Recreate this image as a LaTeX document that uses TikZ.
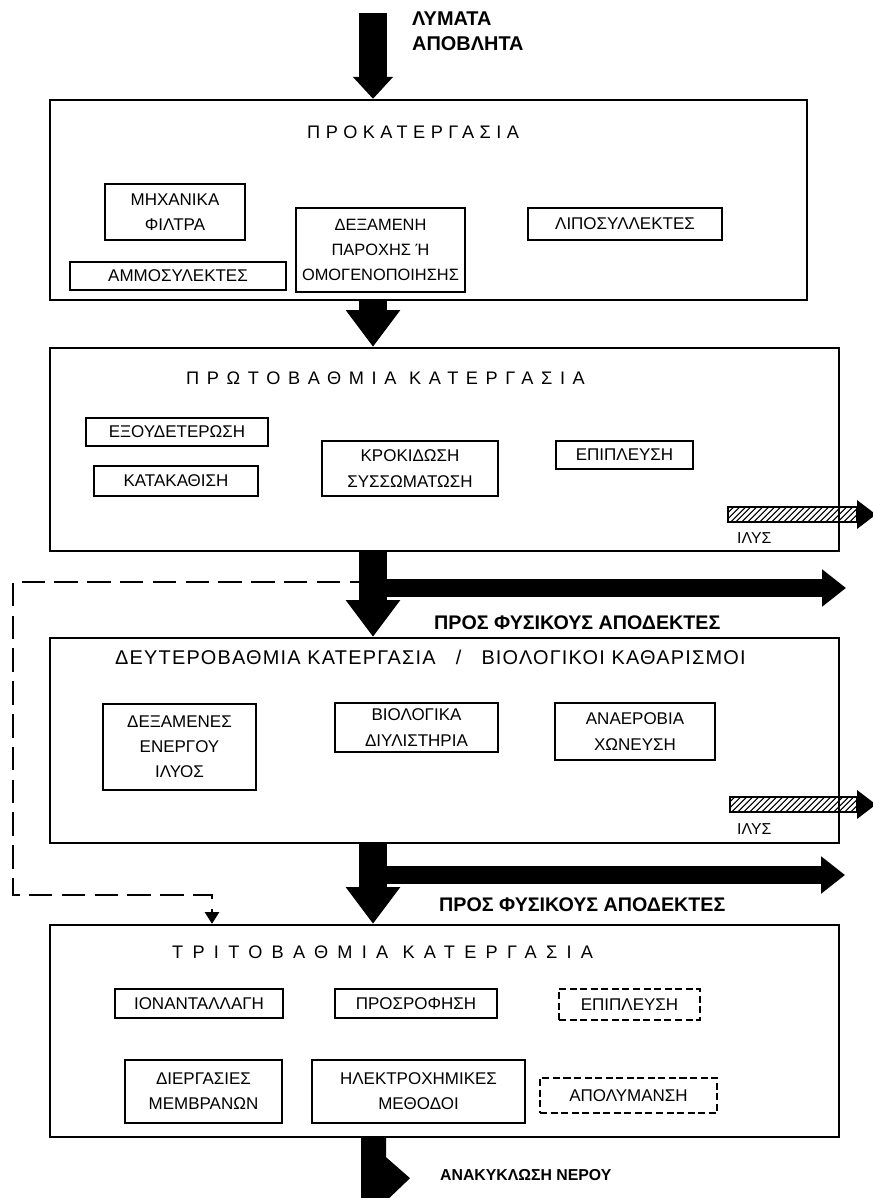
\documentclass[tikz,border=0pt]{standalone}
\usepackage{fontspec}
\setmainfont{Liberation Sans}
\usetikzlibrary{arrows.meta, patterns.meta}

\newcommand{\spaced}[2]{{\addfontfeatures{LetterSpace=#1}#2}}

\begin{document}
\begin{tikzpicture}[x=0.03cm, y=-0.03cm,
    stage/.style = {draw, line width=2pt, inner sep=0pt},
    unit/.style = {draw, line width=1.5pt, align=center, inner sep=0pt, font=\fontsize{14.5}{21.5}\selectfont},
    optional/.style = {unit, dash pattern=on 6pt off 3pt},
    heading/.style = {anchor=west, inner sep=0pt, font=\fontsize{15.5}{18}\selectfont},
    note/.style = {anchor=west, inner sep=0pt, font=\bfseries\fontsize{16.8}{18}\selectfont},
    small/.style = {anchor=west, inner sep=0pt, font=\fontsize{13.5}{15}\selectfont},
    flow/.style = {line width=0.84cm, -{Triangle[width=1.56cm, length=1.1cm]}},
    outflow/.style = {line width=0.54cm, -{Triangle[width=1.08cm, length=0.72cm]}},
    sludge/.style = {draw, line width=1.2pt, pattern={Lines[angle=45, distance=4pt, line width=1.2pt]}},
    recycle/.style = {line width=2pt, dash pattern=on 20pt off 8pt, -{Triangle[width=12pt, length=10pt]}}]
    \useasboundingbox (0,0) rectangle (873,1198);

    % stages
    \node[stage, minimum width=22.71cm, minimum height=6cm] (pre) at (428.5,200) {};
    \node[stage, minimum width=23.67cm, minimum height=6.09cm] (prim) at (444.5,449.5) {};
    \node[stage, minimum width=23.67cm, minimum height=6.15cm] (sec) at (444.5,740.5) {};
    \node[stage, minimum width=23.67cm, minimum height=6.36cm] (tert) at (444.5,1031) {};

    \node[heading] (preT) at (307,132) {\spaced{30}{ΠΡΟΚΑΤΕΡΓΑΣΙΑ}};
    \node[heading] (primT) at (186,378) {\spaced{42}{ΠΡΩΤΟΒΑΘΜΙΑ ΚΑΤΕΡΓΑΣΙΑ}};
    \node[heading, font=\fontsize{17}{18}\selectfont] (secT) at (115,657) {\spaced{6}{ΔΕΥΤΕΡΟΒΑΘΜΙΑ ΚΑΤΕΡΓΑΣΙΑ \ \ / \ \ ΒΙΟΛΟΓΙΚΟΙ ΚΑΘΑΡΙΣΜΟΙ}};
    \node[heading] (tertT) at (172,952) {\spaced{51}{ΤΡΙΤΟΒΑΘΜΙΑ ΚΑΤΕΡΓΑΣΙΑ}};

    % pretreatment
    \node[unit, minimum width=4.2cm, minimum height=1.68cm] (filt) at (175,212) {ΜΗΧΑΝΙΚΑ\\ΦΙΛΤΡΑ};
    \node[unit, minimum width=6.48cm, minimum height=0.84cm] (sand) at (178,276) {ΑΜΜΟΣΥΛΕΚΤΕΣ};
    \node[unit, minimum width=5.07cm, minimum height=2.52cm, font=\fontsize{14}{21.5}\selectfont] (tank) at (380.5,250) {ΔΕΞΑΜΕΝΗ\\ΠΑΡΟΧΗΣ Ή\\ΟΜΟΓΕΝΟΠΟΙΗΣΗΣ};
    \node[unit, minimum width=5.82cm, minimum height=0.96cm] (grease) at (625,224) {ΛΙΠΟΣΥΛΛΕΚΤΕΣ};

    % primary
    \node[unit, minimum width=5.46cm, minimum height=0.84cm] (neut) at (177,432) {ΕΞΟΥΔΕΤΕΡΩΣΗ};
    \node[unit, minimum width=4.92cm, minimum height=0.9cm] (settle) at (176,481) {ΚΑΤΑΚΑΘΙΣΗ};
    \node[unit, minimum width=5.28cm, minimum height=1.65cm] (floc) at (410,468.5) {ΚΡΟΚΙΔΩΣΗ\\ΣΥΣΣΩΜΑΤΩΣΗ};
    \node[unit, minimum width=4.11cm, minimum height=0.84cm] (float) at (624.5,455) {ΕΠΙΠΛΕΥΣΗ};

    % secondary
    \node[unit, minimum width=4.59cm, minimum height=2.58cm] (act) at (179.5,747) {ΔΕΞΑΜΕΝΕΣ\\ΕΝΕΡΓΟΥ\\ΙΛΥΟΣ};
    \node[unit, minimum width=4.89cm, minimum height=1.47cm] (bio) at (416.5,727.5) {ΒΙΟΛΟΓΙΚΑ\\ΔΙΥΛΙΣΤΗΡΙΑ};
    \node[unit, minimum width=4.8cm, minimum height=1.71cm] (anae) at (635,731.5) {ΑΝΑΕΡΟΒΙΑ\\ΧΩΝΕΥΣΗ};

    % tertiary
    \node[unit, minimum width=5.04cm, minimum height=0.87cm] (ion) at (199,1003.5) {ΙΟΝΑΝΤΑΛΛΑΓΗ};
    \node[unit, minimum width=4.86cm, minimum height=0.87cm] (ads) at (416,1003.5) {ΠΡΟΣΡΟΦΗΣΗ};
    \node[optional, minimum width=4.23cm, minimum height=0.93cm] (float2) at (629.5,1004.5) {ΕΠΙΠΛΕΥΣΗ};
    \node[unit, minimum width=4.71cm, minimum height=1.89cm] (memb) at (203.5,1091.5) {ΔΙΕΡΓΑΣΙΕΣ\\ΜΕΜΒΡΑΝΩΝ};
    \node[unit, minimum width=6.39cm, minimum height=1.89cm] (elec) at (418.5,1091.5) {ΗΛΕΚΤΡΟΧΗΜΙΚΕΣ\\ΜΕΘΟΔΟΙ};
    \node[optional, minimum width=5.31cm, minimum height=1.05cm] (disinf) at (628.5,1095.5) {ΑΠΟΛΥΜΑΝΣΗ};

    % main flow
    \coordinate (in) at (373,13);
    \coordinate (back) at (13,582);
    \coordinate (turn) at (13,895);
    \coordinate (drop) at (212,0);
    \draw[recycle] (in |- back) -- (back) -- (turn) -| (drop |- tert.north);

    \node[note, anchor=north west, align=left, font=\bfseries\fontsize{17}{21}\selectfont] (waste) at (412,12) {ΛΥΜΑΤΑ\\ΑΠΟΒΛΗΤΑ};
    \draw[line width=0.84cm, -{Triangle[width=1.17cm, length=0.66cm]}] (in) -- (in |- pre.north);
    \draw[flow] (in |- pre.south) -- (in |- prim.north);
    \draw[flow] (in |- prim.south) -- (in |- sec.north);
    \draw[flow] (in |- sec.south) -- (in |- tert.north);

    % to receivers
    \coordinate (out1) at (846,588);
    \coordinate (out2) at (845,875);
    \draw[outflow] (in |- out1) -- (out1);
    \draw[outflow] (in |- out2) -- (out2);
    \node[note] (recv1) at (434,623) {ΠΡΟΣ ΦΥΣΙΚΟΥΣ ΑΠΟΔΕΚΤΕΣ};
    \node[note] (recv2) at (439,905) {ΠΡΟΣ ΦΥΣΙΚΟΥΣ ΑΠΟΔΕΚΤΕΣ};

    % sludge
    \draw[sludge] (728,507) rectangle (857,522);
    \fill (857,500) -- (876,514.5) -- (857,529) -- cycle;
    \node[small] (mud1) at (737,538) {ΙΛΥΣ};
    \draw[sludge] (730,797) rectangle (857,812);
    \fill (857,790) -- (876,804.5) -- (857,819) -- cycle;
    \node[small] (mud2) at (737,829) {ΙΛΥΣ};

    % reuse
    \coordinate (rc) at (361,0);
    \fill (rc |- tert.south) -- ++(25,0) -- ++(0,19) -- ++(24,21) -- ++(-23,22) -- (rc |- 0,1199) -- cycle;
    \node[note, font=\bfseries\fontsize{13.5}{15}\selectfont] (reuse) at (440,1175) {ΑΝΑΚΥΚΛΩΣΗ ΝΕΡΟΥ};
\end{tikzpicture}
\end{document}
